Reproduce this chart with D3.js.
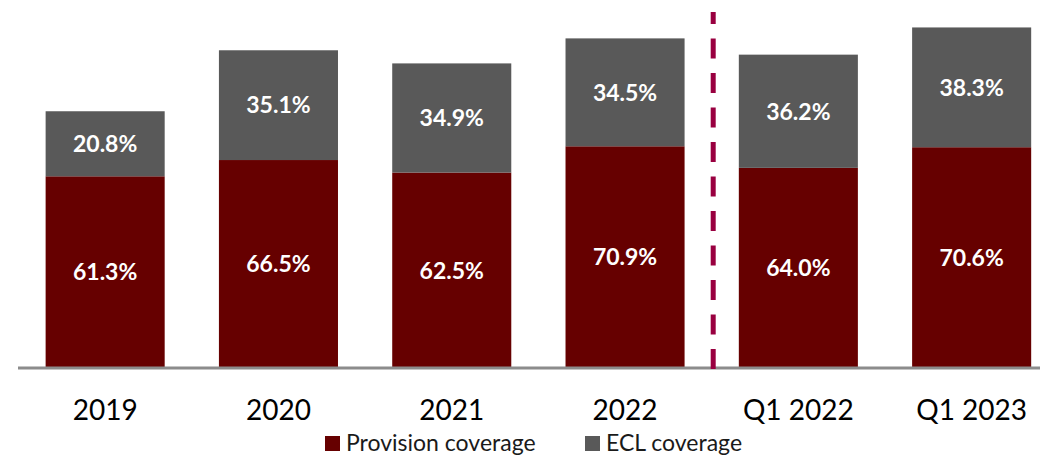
<!DOCTYPE html>
<html>
<head>
<meta charset="utf-8">
<script src="https://cdn.jsdelivr.net/npm/d3@7"></script>
<style>
  html, body { margin: 0; padding: 0; background: #fff; }
  svg { display: block; }
</style>
</head>
<body>
<div id="chart"></div>
<script>
const categories = ['2019', '2020', '2021', '2022', 'Q1 2022', 'Q1 2023'];
const provision = [61.3, 66.5, 62.5, 70.9, 64.0, 70.6];
const ecl = [20.8, 35.1, 34.9, 34.5, 36.2, 38.3];
const seriesNames = ['Provision coverage', 'ECL coverage'];
const colors = ['#660000', '#595959'];

const W = 1040, H = 462;
const baseY = 368;

const svg = d3.select('#chart').append('svg')
  .attr('width', W).attr('height', H)
  .style('font-family', 'Lato, "Open Sans", sans-serif');

const x = d3.scaleBand().domain(categories)
  .range([18.5, 1058.3]).paddingInner(0.313).paddingOuter(0.1565);
const y = d3.scaleLinear().domain([0, 110]).range([baseY, 24]);

const rows = categories.map((c, i) => ({ cat: c, provision: provision[i], ecl: ecl[i] }));
const stack = d3.stack().keys(['provision', 'ecl'])(rows);

const layers = svg.selectAll('g.layer').data(stack).join('g')
  .attr('class', 'layer').attr('fill', (d, i) => colors[i]);

layers.selectAll('rect').data(d => d).join('rect')
  .attr('x', d => x(d.data.cat))
  .attr('width', x.bandwidth())
  .attr('y', d => y(d[1]))
  .attr('height', d => y(d[0]) - y(d[1]));

layers.selectAll('text').data(d => d).join('text')
  .attr('x', d => x(d.data.cat) + x.bandwidth() / 2)
  .attr('y', d => (y(d[0]) + y(d[1])) / 2)
  .attr('dy', '0.36em')
  .attr('text-anchor', 'middle')
  .attr('fill', '#fff')
  .attr('font-weight', 700)
  .attr('font-size', '23px')
  .text(d => (d[1] - d[0]).toFixed(1) + '%');

// baseline
svg.append('line')
  .attr('x1', 18).attr('x2', W)
  .attr('y1', baseY).attr('y2', baseY)
  .attr('stroke', '#8c8c8c').attr('stroke-width', 3);

// divider between annual and quarterly
const divX = x('Q1 2022') - x.step() * x.paddingInner() / 2 + 1.5;
svg.append('line')
  .attr('x1', divX).attr('x2', divX)
  .attr('y1', baseY + 1).attr('y2', 12)
  .attr('stroke', '#990040').attr('stroke-width', 5)
  .attr('stroke-dasharray', '20,14.5');

// x labels
svg.selectAll('text.xlab').data(categories).join('text')
  .attr('class', 'xlab')
  .attr('x', d => x(d) + x.bandwidth() / 2)
  .attr('y', 420)
  .attr('text-anchor', 'middle')
  .attr('font-size', '28px')
  .attr('fill', '#000')
  .text(d => d);

// legend
const legendX = [325, 585];
const legend = svg.selectAll('g.leg').data(seriesNames).join('g')
  .attr('class', 'leg')
  .attr('transform', (d, i) => `translate(${legendX[i]},443)`);
legend.append('rect')
  .attr('x', 0).attr('y', -7).attr('width', 15).attr('height', 15)
  .attr('fill', (d, i) => colors[i]);
legend.append('text')
  .attr('x', 21).attr('y', 0).attr('dy', '0.36em')
  .attr('font-size', '23px').attr('fill', '#1a1a1a')
  .text(d => d);
</script>
</body>
</html>
